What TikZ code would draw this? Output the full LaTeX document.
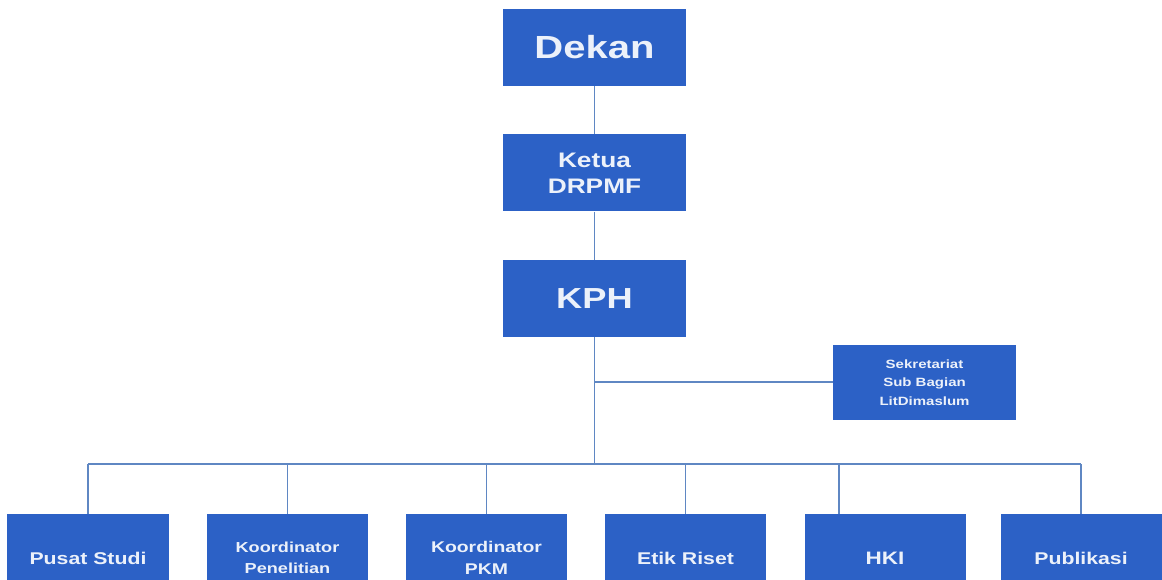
\documentclass[tikz,border=0pt]{standalone}
\usepackage{fontspec}
\newfontfamily\orgfont{Liberation Sans}[FakeStretch=1.25]
\definecolor{boxblue}{RGB}{44,97,198}
\definecolor{txtwhite}{RGB}{236,241,250}
\definecolor{linkblue}{RGB}{95,135,195}
\tikzset{
  unit/.style={draw=none, fill=boxblue, text=txtwhite, align=center,
    inner sep=0pt, font=\orgfont\bfseries},
  topbox/.style={unit, minimum width=183bp, minimum height=77bp},
  subbox/.style={unit, minimum width=161bp, minimum height=88bp},
  link/.style={draw=linkblue, line width=1.1bp}
}
\begin{document}
\begin{tikzpicture}[x=1bp,y=-1bp]
\useasboundingbox (0,0) rectangle (1162,580);
\fill[white] (0,0) rectangle (1162,580);
\begin{scope}
\clip (0,0) rectangle (1162,580);
% top chain
\node[topbox, font=\orgfont\bfseries\fontsize{32bp}{38bp}\selectfont] (dekan) at (594.5,47.5) {Dekan};
\node[topbox, font=\orgfont\bfseries\fontsize{21bp}{26bp}\selectfont] (ketua) at (594.5,173) {Ketua\\DRPMF};
\node[topbox, font=\orgfont\bfseries\fontsize{29bp}{34bp}\selectfont] (kph) at (594.5,298.5) {KPH};
\node[topbox, minimum height=75bp, font=\orgfont\bfseries\fontsize{12bp}{18.5bp}\selectfont] (sek) at (924.5,382.5) {Sekretariat\\Sub Bagian\\LitDimaslum};
% bottom row
\node[subbox, font=\orgfont\bfseries\fontsize{17bp}{21bp}\selectfont] (pusat) at (88,558) {Pusat Studi};
\node[subbox, font=\orgfont\bfseries\fontsize{14.5bp}{21bp}\selectfont] (pen) at (287.5,558) {Koordinator\\Penelitian};
\node[subbox, font=\orgfont\bfseries\fontsize{15.5bp}{22bp}\selectfont] (pkm) at (486.5,558) {Koordinator\\PKM};
\node[subbox, font=\orgfont\bfseries\fontsize{17bp}{21bp}\selectfont] (etik) at (685.5,558) {Etik Riset};
\node[subbox, font=\orgfont\bfseries\fontsize{18bp}{21bp}\selectfont] (hki) at (885,558) {HKI};
\node[subbox, font=\orgfont\bfseries\fontsize{17bp}{21bp}\selectfont] (pub) at (1081,558) {Publikasi};
\end{scope}
% junctions
\coordinate (jsek) at (594.5,382);
\coordinate (jbus) at (594.5,464);
\coordinate (hkitap) at (839,464);
% connectors
\draw[link] (dekan.south) -- (ketua.north);
\draw[link] (ketua.south) -- (kph.north);
\draw[link] (kph.south) -- (jbus);
\draw[link] (jsek) -- (sek.west |- jsek);
\draw[link] (pusat.north |- jbus) -- (pub.north |- jbus);
\draw[link] (pusat.north |- jbus) -- (pusat.north);
\draw[link] (pen.north |- jbus) -- (pen.north);
\draw[link] (pkm.north |- jbus) -- (pkm.north);
\draw[link] (etik.north |- jbus) -- (etik.north);
\draw[link] (hkitap) -- (hkitap |- hki.north);
\draw[link] (pub.north |- jbus) -- (pub.north);
\end{tikzpicture}
\end{document}
